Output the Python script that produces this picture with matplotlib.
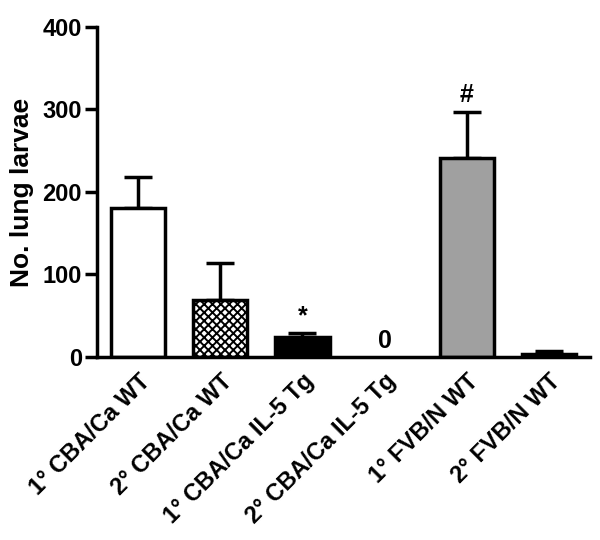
import matplotlib.pyplot as plt
import numpy as np

plt.rcParams['font.family'] = ['Liberation Sans', 'DejaVu Sans']
plt.rcParams['font.weight'] = 'bold'
plt.rcParams['hatch.linewidth'] = 1.4

# data
groups = ["1° CBA/Ca WT", "2° CBA/Ca WT", "1° CBA/Ca IL-5 Tg",
          "2° CBA/Ca IL-5 Tg", "1° FVB/N WT", "2° FVB/N WT"]
larvae = [180, 69, 24, 0, 241, 4]
sem = [38, 45, 5, 0, 56, 3]
marks = ["", "", "*", "0", "#", ""]

fills = ["white", "white", "black", "white", "#a0a0a0", "black"]
hatches = [None, "xxxx", None, None, None, None]

fig = plt.figure(figsize=(6, 5.4), dpi=100)
ax = fig.add_axes([0.162, 0.339, 0.821, 0.611])

x = np.arange(len(groups))
for i in range(len(groups)):
    if larvae[i] == 0:
        continue
    ax.bar(x[i], larvae[i], width=0.66, color=fills[i], edgecolor="black",
           linewidth=2.5, hatch=hatches[i], zorder=2)
    ax.errorbar(x[i], larvae[i], yerr=[[0], [sem[i]]], color="black",
                elinewidth=2.5, capsize=10, capthick=2.5, zorder=1)

for i, m in enumerate(marks):
    if not m:
        continue
    ypos = larvae[i] + sem[i] + 6 if m != "0" else 5
    ax.text(x[i], ypos, m, ha="center", va="bottom", fontsize=18,
            fontweight="bold")

ax.set_xlim(-0.5, 5.5)
ax.set_ylim(0, 400)
ax.set_yticks([0, 100, 200, 300, 400])
ax.set_xticks(x)
ax.set_xticklabels(groups, rotation=45, ha="right", rotation_mode="anchor",
                   fontsize=17)
ax.tick_params(axis="x", length=0, pad=9)
ax.tick_params(axis="y", labelsize=17, width=2.5, length=9, pad=2)
ax.set_ylabel("No. lung larvae", fontsize=19, fontweight="bold", labelpad=6)

for s in ["top", "right"]:
    ax.spines[s].set_visible(False)
for s in ["left", "bottom"]:
    ax.spines[s].set_linewidth(2.5)

fig.savefig("out.png", dpi=100)
